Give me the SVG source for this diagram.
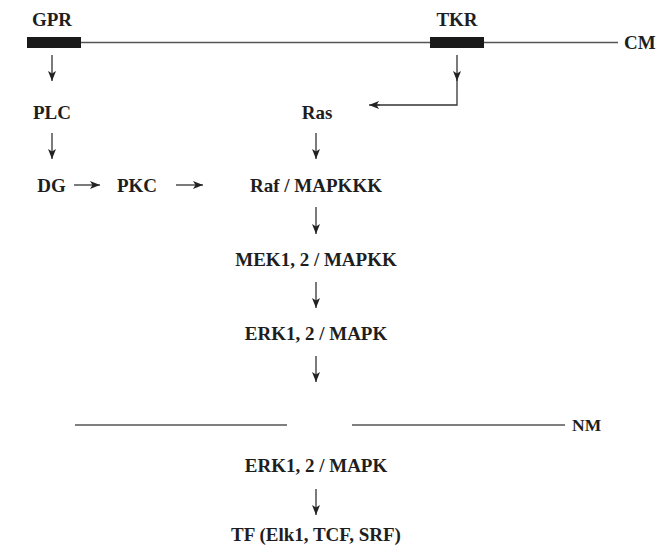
<svg xmlns="http://www.w3.org/2000/svg" width="664" height="552" viewBox="0 0 664 552">
<style>
text{font-family:"Liberation Serif","Times New Roman",serif;font-weight:bold;font-size:19px;fill:#1e1e1e;text-anchor:middle}
.lbl{text-anchor:start}
.nm{font-size:17.5px}
.mem{stroke:#555;stroke-width:1.6;fill:none}
.arr{stroke:#333;stroke-width:1.3;fill:none;marker-end:url(#ah)}
.arr2{stroke:#333;stroke-width:1.3;fill:none}
</style>
<defs>
<marker id="ah" viewBox="0 0 10 8" refX="10" refY="4" markerWidth="10" markerHeight="8" markerUnits="userSpaceOnUse" orient="auto">
<path d="M0,0 L10,4 L0,8 L2.5,4 Z" fill="#222"/>
</marker>
</defs>
<rect width="664" height="552" fill="#fff"/>
<g id="membranes">
<line class="mem" x1="81" y1="42.5" x2="618" y2="42.5"/>
<line class="mem" x1="75" y1="425" x2="287" y2="425"/>
<line class="mem" x1="352" y1="425" x2="565" y2="425"/>
</g>
<g id="GPR"><rect x="27" y="37" width="54" height="11" fill="#1a1a1a"/><text x="52" y="26">GPR</text></g>
<g id="TKR"><rect x="430" y="37" width="54" height="11" fill="#1a1a1a"/><text x="457" y="26">TKR</text></g>
<g id="CM"><text class="lbl" x="624" y="49">CM</text></g>
<g id="NM"><text class="lbl nm" x="572" y="431">NM</text></g>
<g id="PLC"><text x="52" y="119">PLC</text></g>
<g id="Ras"><text x="317" y="119">Ras</text></g>
<g id="DG"><text x="51.5" y="192">DG</text></g>
<g id="PKC"><text x="137" y="192">PKC</text></g>
<g id="Raf"><text x="316" y="192">Raf / MAPKKK</text></g>
<g id="MEK"><text x="316" y="266">MEK1, 2 / MAPKK</text></g>
<g id="ERK1"><text x="316" y="340">ERK1, 2 / MAPK</text></g>
<g id="ERK2"><text x="316" y="472">ERK1, 2 / MAPK</text></g>
<g id="TF"><text x="316" y="541">TF (Elk1, TCF, SRF)</text></g>
<g id="connectors">
<line class="arr" x1="52" y1="55" x2="52" y2="81"/>
<line class="arr" x1="457" y1="55" x2="457" y2="81"/>
<polyline class="arr2" points="457,79 457,105 372,105"/>
<line class="arr" x1="380" y1="105" x2="369" y2="105"/>
<line class="arr" x1="52" y1="133" x2="52" y2="159"/>
<line class="arr" x1="316" y1="133" x2="316" y2="159"/>
<line class="arr" x1="74" y1="185" x2="100" y2="185"/>
<line class="arr" x1="176" y1="185" x2="203" y2="185"/>
<line class="arr" x1="316" y1="207" x2="316" y2="234"/>
<line class="arr" x1="316" y1="282" x2="316" y2="308"/>
<line class="arr" x1="316" y1="356" x2="316" y2="382"/>
<line class="arr" x1="316" y1="489" x2="316" y2="515"/>
</g>
</svg>
